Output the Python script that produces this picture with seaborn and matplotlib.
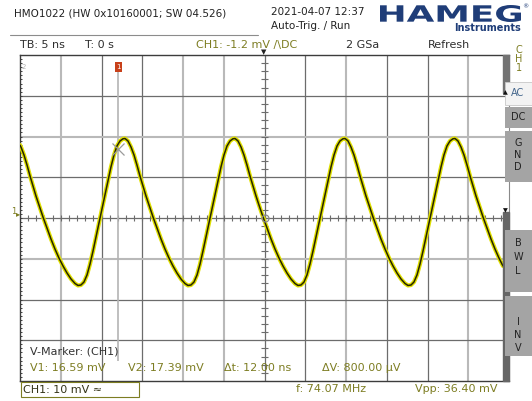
import matplotlib.pyplot as plt
import seaborn as sns
from matplotlib.font_manager import FontProperties
from matplotlib.patches import PathPatch, Rectangle
from matplotlib.textpath import TextPath
from matplotlib.transforms import Affine2D

W, H = 532, 401

# trace: time in ns (5 ns/div), voltage in mV (10 mV/div)
time_ns = [
    -30.00, -29.88, -29.51, -29.14, -28.77, -28.41, -28.04, -27.67, -27.18, -26.69,
    -26.20, -25.71, -25.22, -24.72, -24.23, -23.74, -23.25, -22.88, -22.52, -22.15,
    -21.78, -21.41, -21.04, -20.68, -20.31, -19.94, -19.57, -19.20, -18.84, -18.47,
    -18.10, -17.73, -17.36,
    -17.12, -16.75, -16.38, -16.01, -15.65, -15.28, -14.91, -14.54, -14.17, -13.68,
    -13.19, -12.70, -12.21, -11.72, -11.23, -10.74, -10.25, -9.76, -9.39, -9.02,
    -8.65, -8.28, -7.91, -7.55, -7.18, -6.81, -6.44, -6.07, -5.71, -5.34,
    -4.97, -4.60, -4.23, -3.87,
    -3.62, -3.25, -2.88, -2.52, -2.15, -1.78, -1.41, -1.04, -0.68, -0.18,
    0.31, 0.80, 1.29, 1.78, 2.27, 2.76, 3.25, 3.74, 4.11, 4.48,
    4.85, 5.21, 5.58, 5.95, 6.32, 6.69, 7.06, 7.42, 7.79, 8.16,
    8.53, 8.90, 9.26, 9.63,
    9.88, 10.25, 10.61, 10.98, 11.35, 11.72, 12.09, 12.45, 12.82, 13.31,
    13.80, 14.29, 14.79, 15.28, 15.77, 16.26, 16.75, 17.24, 17.61, 17.98,
    18.34, 18.71, 19.08, 19.45, 19.82, 20.18, 20.55, 20.92, 21.29, 21.66,
    22.02, 22.39, 22.76, 23.13,
    23.37, 23.74, 24.11, 24.48, 24.85, 25.22, 25.58, 25.95, 26.32, 26.81,
    27.30, 27.79, 28.28, 28.77, 29.26,
]
volt_mv = [
    17.90, 17.42, 15.46, 13.01, 10.31, 7.85, 5.40, 3.19, 0.25, -2.45,
    -5.15, -7.61, -9.82, -11.78, -13.50, -14.97, -16.07, -16.56, -16.44, -15.71,
    -13.99, -11.29, -8.10, -4.66, -1.23, 2.21, 5.64, 9.08, 12.52, 15.46,
    17.67, 18.90, 19.44,
    19.51, 18.90, 17.42, 15.46, 13.01, 10.31, 7.85, 5.40, 3.19, 0.25,
    -2.45, -5.15, -7.61, -9.82, -11.78, -13.50, -14.97, -16.07, -16.56, -16.44,
    -15.71, -13.99, -11.29, -8.10, -4.66, -1.23, 2.21, 5.64, 9.08, 12.52,
    15.46, 17.67, 18.90, 19.44,
    19.51, 18.90, 17.42, 15.46, 13.01, 10.31, 7.85, 5.40, 3.19, 0.25,
    -2.45, -5.15, -7.61, -9.82, -11.78, -13.50, -14.97, -16.07, -16.56, -16.44,
    -15.71, -13.99, -11.29, -8.10, -4.66, -1.23, 2.21, 5.64, 9.08, 12.52,
    15.46, 17.67, 18.90, 19.44,
    19.51, 18.90, 17.42, 15.46, 13.01, 10.31, 7.85, 5.40, 3.19, 0.25,
    -2.45, -5.15, -7.61, -9.82, -11.78, -13.50, -14.97, -16.07, -16.56, -16.44,
    -15.71, -13.99, -11.29, -8.10, -4.66, -1.23, 2.21, 5.64, 9.08, 12.52,
    15.46, 17.67, 18.90, 19.44,
    19.51, 18.90, 17.42, 15.46, 13.01, 10.31, 7.85, 5.40, 3.19, 0.25,
    -2.45, -5.15, -7.61, -9.82, -11.78,
]

cursor_t = -17.98
light_vlines = [-25, -10, -5, 10, 25]
light_hlines = [20, -10]

header_info = "HMO1022 (HW 0x10160001; SW 04.526)"
date_text = "2021-04-07 12:37"
trig_text = "Auto-Trig. / Run"
top_row = [(20, "TB: 5 ns"), (85, "T: 0 s"), (346, "2 GSa"), (428, "Refresh")]
ch_row = "CH1: -1.2 mV /\\DC"
meas_row = [(30, "V1: 16.59 mV"), (128, "V2: 17.39 mV"), (224, "Δt: 12.00 ns"), (322, "ΔV: 800.00 µV")]

OLIVE = "#7d7d22"
DARK = "#2e2e2e"
LOGO = "#1f3d78"

sns.set_theme(style="white")
plt.rcParams["font.family"] = ["DejaVu Sans"]

fig = plt.figure(figsize=(W / 100, H / 100), dpi=100)
fig.patch.set_facecolor("white")
ax = fig.add_axes([20 / W, 1 - 381 / H, 489 / W, 326 / H])
ax.set_xlim(-30, 30)
ax.set_ylim(-40, 40)
ax.set_xticks([])
ax.set_yticks([])
for side in ["top", "left", "bottom"]:
    ax.spines[side].set_color("#3c3c3c")
    ax.spines[side].set_linewidth(1.0)
ax.spines["right"].set_color("#8a8a8a")
ax.spines["right"].set_linewidth(0.8)

# graticule
for k in range(1, 12):
    t = -30 + 5 * k
    if t in light_vlines:
        ax.axvline(t, color="#b9b9b9", lw=1.5, zorder=1)
    else:
        ax.axvline(t, color="#6c6c6c", lw=0.9, zorder=1)
for k in range(1, 8):
    v = 40 - 10 * k
    if v in light_hlines:
        ax.axhline(v, color="#b9b9b9", lw=1.5, zorder=1)
    else:
        ax.axhline(v, color="#6c6c6c", lw=0.9, zorder=1)

# minor ticks on centre lines and left edge
minor_t = [-30 + i for i in range(61)]
minor_v = [-40 + 2 * i for i in range(41)]
ax.vlines(minor_t, -0.8, 0.8, color="#6c6c6c", lw=0.8, zorder=1)
ax.hlines(minor_v, -0.38, 0.38, color="#6c6c6c", lw=0.8, zorder=1)
ax.hlines([-40 + i for i in range(81)], -30, -29.75, color="#3c3c3c", lw=0.7, zorder=1)

# cursor
ax.vlines(cursor_t, -35, 36.5, color="#b4b4b4", lw=1.2, zorder=2)
ax.plot([cursor_t], [17.0], marker="x", ms=8, mew=0.9, color="#9a9a9a", zorder=4)
ax.plot([0.05], [0], marker="o", ms=5, mfc="none", mec="#8a8a8a", mew=0.9, zorder=4)

# signal
sns.lineplot(x=time_ns, y=volt_mv, ax=ax, color="#e0e000", lw=3.0, zorder=3, estimator=None)
sns.lineplot(x=time_ns, y=volt_mv, ax=ax, color="#262400", lw=1.1, zorder=3, estimator=None)

# right offset bar
bar_x = (503 - 20) / 489
ax.add_patch(Rectangle((bar_x, (381 - 93) / 326), 1 - bar_x, (93 - 55) / 326,
                       transform=ax.transAxes, color="#737373", zorder=5, clip_on=False))
ax.add_patch(Rectangle((bar_x, 0), 1 - bar_x, (381 - 212) / 326,
                       transform=ax.transAxes, color="#666666", zorder=5, clip_on=False))


def put(x, y, s, color=DARK, size=8, **kw):
    fig.text(x / W, 1 - y / H, s, color=color, fontsize=size, va="center", **kw)


def box(x0, y0, x1, y1, face, edge="none", lw=0.0):
    fig.add_artist(Rectangle((x0 / W, 1 - y1 / H), (x1 - x0) / W, (y1 - y0) / H,
                             transform=fig.transFigure, facecolor=face, edgecolor=edge, lw=lw))


# markers on the bar and top edge
put(505.5, 93, "▲", size=4.5, color="#111111", ha="center")
put(505.5, 211, "▼", size=4.5, color="#111111", ha="center")
put(264, 52, "▼", size=5, color="#222222", ha="center")

# cursor flag
box(115, 62, 122, 72, "#c8401a")
put(118.5, 67, "1", size=5, color="white", ha="center")
put(22, 67, "2", size=5, color="#b0b0b0")

# ground marker
put(11, 211, "1", size=6, color=OLIVE)
put(16, 214, "▸", size=6, color=OLIVE)

# header
put(14, 14, header_info, size=7.5, color="#222222")
put(271, 12, date_text, size=7.5, color="#222222")
put(271, 26, trig_text, size=7.5, color="#222222")
fig.add_artist(plt.Line2D([10 / W, 258 / W], [1 - 35 / H, 1 - 35 / H],
                          transform=fig.transFigure, color="#8c8c8c", lw=0.8))
for x, s in top_row:
    put(x, 45, s, size=8, color=DARK)
put(196, 45, ch_row, size=8, color=OLIVE)

# HAMEG logo
fp = FontProperties(family="DejaVu Sans", weight="bold")
tp = TextPath((0, 0), "HAMEG", size=10, prop=fp)
bb = tp.get_extents()
tr = (Affine2D().translate(-bb.x0, -bb.y0)
      .scale(141 / bb.width / W, 17 / bb.height / H)
      .translate(380 / W, (H - 22) / H) + fig.transFigure)
fig.add_artist(PathPatch(tp, transform=tr, color=LOGO, lw=0))
put(521, 28, "Instruments", size=7, color=LOGO, ha="right", fontweight="bold")
put(525, 7, "®", size=4.5, color=LOGO, ha="center")

# right side panel
for i, ch in enumerate("CH1"):
    put(519, 50 + 9 * i, ch, size=7, color=OLIVE, ha="center")
box(505, 82, 532, 105, "#f3f3f3", edge="#c8c8c8", lw=0.6)
put(518, 93, "AC", size=7, color="#44668c", ha="center")
box(505, 107, 532, 128, "#a4a4a4")
put(518, 117, "DC", size=7, color="#222222", ha="center")
box(505, 131, 532, 182, "#a4a4a4")
for i, ch in enumerate("GND"):
    put(518, 143 + 12 * i, ch, size=7, color="#222222", ha="center")
box(505, 230, 532, 292, "#a4a4a4")
for i, ch in enumerate("BWL"):
    put(518, 243 + 14 * i, ch, size=7, color="#222222", ha="center")
box(505, 296, 532, 356, "#a4a4a4")
for i, ch in enumerate("INV"):
    put(518, 322 + 13 * i, ch, size=7, color="#222222", ha="center")

# measurement area inside the screen
put(30, 352, "V-Marker: (CH1)", size=8, color="#333333")
for x, s in meas_row:
    put(x, 368, s, size=8, color=OLIVE)

# footer
box(21, 382, 139, 397, "white", edge=OLIVE, lw=0.8)
put(23, 390, "CH1: 10 mV ≈", size=8, color="#333318")
put(296, 389, "f: 74.07 MHz", size=8, color=OLIVE)
put(415, 389, "Vpp: 36.40 mV", size=8, color=OLIVE)

fig.savefig("out.png", dpi=100, facecolor="white")
